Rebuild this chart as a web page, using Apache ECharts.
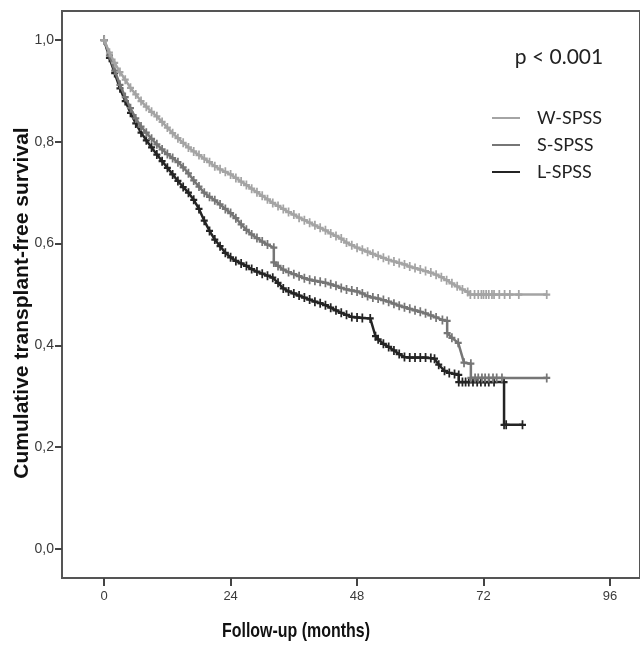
<!DOCTYPE html>
<html>
<head>
<meta charset="utf-8">
<script src="https://cdn.jsdelivr.net/npm/echarts@6/dist/echarts.min.js"></script>
<style>html,body{margin:0;padding:0;background:#fff}#chart{width:640px;height:646px}</style>
</head>
<body>
<div id="chart"></div>
<script>
// ---- data: [month, cumulative survival] ----
const seriesNames = ['W-SPSS', 'S-SPSS', 'L-SPSS'];
const curveW = [[0,1.000],[1,0.975],[2,0.955],[3,0.937],[4,0.922],[5,0.906],[6,0.893],[7,0.880],[8,0.869],[9,0.859],[10,0.850],[11,0.839],[12,0.828],[13,0.817],[14,0.807],[15,0.798],[16,0.789],[17,0.781],[18,0.774],[19,0.767],[20,0.760],[21,0.752],[22,0.746],[23,0.741],[24,0.736],[25,0.729],[26,0.722],[27,0.715],[28,0.708],[29,0.701],[30,0.694],[31,0.687],[32,0.680],[33,0.674],[34,0.668],[35,0.662],[36,0.657],[37,0.651],[38,0.646],[39,0.641],[40,0.636],[41,0.631],[42,0.626],[43,0.620],[44,0.615],[45,0.610],[46,0.602],[47,0.597],[48,0.592],[49,0.588],[50,0.584],[51,0.580],[52,0.576],[53,0.572],[54,0.568],[55,0.565],[56,0.562],[57,0.559],[58,0.555],[59,0.552],[60,0.549],[61,0.546],[62,0.543],[63,0.539],[64,0.534],[65,0.528],[66,0.522],[67,0.516],[68,0.510],[69,0.505],[69.5,0.500]];
const tailW = [[70.3,0.5],[71,0.5],[71.6,0.5],[72,0.5],[72.5,0.5],[73,0.5],[73.6,0.5],[74,0.5],[75,0.5],[76,0.5],[77,0.5],[78.7,0.5],[84,0.5]];
const curveS = [[0,1.000],[1,0.970],[2,0.940],[3,0.912],[4,0.888],[5,0.866],[6,0.846],[7,0.830],[8,0.818],[9,0.806],[10,0.795],[11,0.785],[12,0.776],[13,0.768],[14,0.760],[15,0.750],[16,0.738],[17,0.724],[18,0.712],[19,0.700],[20,0.692],[21,0.685],[22,0.677],[23,0.668],[24,0.660],[25,0.650],[26,0.638],[27,0.627],[28,0.618],[29,0.611],[30,0.604],[31,0.598],[32.2,0.592],[32.2,0.563],[33,0.556],[34,0.549],[35,0.544],[36,0.540],[37,0.536],[38,0.532],[39,0.529],[40,0.527],[41,0.525],[42,0.523],[43,0.520],[44,0.517],[45,0.513],[46,0.510],[47,0.508],[48,0.506],[49,0.502],[50,0.497],[51,0.494],[52,0.492],[53,0.489],[54,0.486],[55,0.482],[56,0.478],[57,0.475],[58,0.472],[59,0.469],[60,0.466],[61,0.463],[62,0.459],[63,0.455],[64.2,0.450],[65.1,0.448],[65.1,0.424],[66,0.415],[67.2,0.405],[68.3,0.366],[69.6,0.364],[69.6,0.336]];
const tailS = [[70.4,0.336],[71,0.336],[71.7,0.336],[72.3,0.336],[73,0.336],[73.8,0.336],[74.5,0.336],[75.5,0.336],[84,0.336]];
const curveL = [[0,1.000],[1,0.965],[2,0.935],[3,0.905],[4,0.880],[5,0.857],[6,0.836],[7,0.818],[8,0.803],[9,0.789],[10,0.775],[11,0.762],[12,0.749],[13,0.736],[14,0.723],[15,0.711],[16,0.700],[17,0.686],[18,0.668],[19,0.645],[20,0.625],[21,0.608],[22,0.595],[23,0.582],[24,0.573],[25,0.566],[26,0.561],[27,0.556],[28,0.550],[29,0.545],[30,0.541],[31,0.537],[32,0.533],[33,0.523],[34,0.512],[35,0.506],[36,0.502],[37,0.498],[38,0.494],[39,0.490],[40,0.486],[41,0.483],[42,0.479],[43,0.474],[44,0.469],[45,0.464],[46,0.460],[47,0.456],[48,0.455],[49,0.454],[50.5,0.453],[51.5,0.418],[52,0.412],[53,0.403],[54,0.397],[55,0.390],[56,0.383],[57,0.377],[58,0.376],[59,0.376],[60,0.376],[61,0.376],[62,0.375],[62.7,0.374],[63.5,0.362],[64.6,0.350],[65.5,0.346],[66.5,0.344],[67.3,0.342],[67.3,0.328]];
const tailL = [[68,0.328],[68.6,0.328],[69.2,0.328],[70,0.328],[70.8,0.328],[71.5,0.328],[72.3,0.328],[73,0.328],[74,0.328],[75.9,0.328],[75.9,0.244],[76.3,0.244],[79.4,0.244]];
const xTicks = [0, 24, 48, 72, 96];
const yTicks = [0, 0.2, 0.4, 0.6, 0.8, 1.0];
const colors = ['#a4a4a4', '#767676', '#242424'];
const pText = 'p < 0.001';
const xTitle = 'Follow-up (months)';
const yTitle = 'Cumulative transplant-free survival';

const datasets = [curveW.concat(tailW), curveS.concat(tailS), curveL.concat(tailL)];
const plus = 'path://M3,0H5V3H8V5H5V8H3V5H0V3H3Z';

const chart = echarts.init(document.getElementById('chart'), null, {renderer: 'canvas'});
chart.setOption({
  animation: false,
  backgroundColor: '#fff',
  grid: {left: 62, top: 11, right: -12, bottom: 68, show: true, borderColor: '#555', borderWidth: 2, backgroundColor: 'transparent'},
  xAxis: {
    type: 'value', min: -8, max: 101.7,
    axisLine: {show: false, onZero: false},
    splitLine: {show: false},
    axisTick: {show: true, customValues: xTicks, length: 8, inside: false, lineStyle: {color: '#444', width: 2}},
    axisLabel: {customValues: xTicks, margin: 12, color: '#3a3a3a', fontSize: 13, fontFamily: 'Liberation Sans, Arial, sans-serif'}
  },
  yAxis: {
    type: 'value', min: -0.057, max: 1.057,
    axisLine: {show: false, onZero: false},
    splitLine: {show: false},
    axisTick: {show: true, customValues: yTicks, length: 7, lineStyle: {color: '#444', width: 2}},
    axisLabel: {customValues: yTicks, margin: 8, color: '#3a3a3a', fontSize: 14, fontFamily: 'Liberation Sans, Arial, sans-serif',
      formatter: v => v.toFixed(1).replace('.', ',')}
  },
  legend: {
    show: true, orient: 'vertical', left: 487, top: 104, itemGap: 9,
    itemWidth: 28, itemHeight: 2, icon: 'rect',
    data: seriesNames,
    textStyle: {fontFamily: 'Lato, sans-serif', fontSize: 18, color: '#222', lineHeight: 18, padding: [0, 0, 0, 12]}
  },
  graphic: [
    {type: 'text', x: 559, y: 57, style: {text: pText, fontFamily: 'Lato, sans-serif', fontSize: 21, fill: '#222', textAlign: 'center', textVerticalAlign: 'middle'}},
    {type: 'text', x: 296, y: 631, scaleX: 0.76, style: {text: xTitle, fontFamily: 'Liberation Sans, Arial, sans-serif', fontWeight: 'bold', fontSize: 21, fill: '#111', textAlign: 'center', textVerticalAlign: 'middle'}},
    {type: 'text', x: 22, y: 303, rotation: Math.PI / 2, style: {text: yTitle, fontFamily: 'Liberation Sans, Arial, sans-serif', fontWeight: 'bold', fontSize: 21, fill: '#111', textAlign: 'center', textVerticalAlign: 'middle'}}
  ],
  series: seriesNames.map((n, i) => ({
    name: n, type: 'line', data: datasets[i],
    color: colors[i],
    lineStyle: {color: colors[i], width: 2.5},
    itemStyle: {color: colors[i]},
    showSymbol: true, symbol: plus, symbolSize: [7, 9],
    z: 3 - i
  }))
});
</script>
</body>
</html>
